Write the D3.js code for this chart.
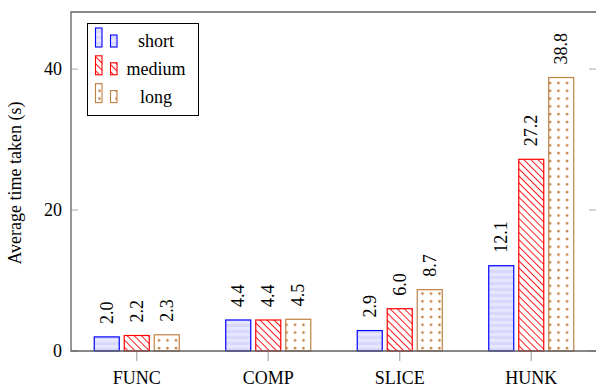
<!DOCTYPE html>
<html>
<head>
<meta charset="utf-8">
<script src="https://cdn.jsdelivr.net/npm/d3@7"></script>
<style>
  body { margin: 0; background: #fff; }
  text { font-family: "Liberation Serif", "Times New Roman", serif; fill: #000; }
</style>
</head>
<body>
<div id="chart"></div>
<script>
// Chart data
var categories = ["FUNC", "COMP", "SLICE", "HUNK"];
var seriesNames = ["short", "medium", "long"];
var shortTimes = [2.0, 4.4, 2.9, 12.1];
var mediumTimes = [2.2, 4.4, 6.0, 27.2];
var longTimes = [2.3, 4.5, 8.7, 38.8];
var yTicks = [0, 20, 40];

var svgWidth = 596;
var svgHeight = 387;

var plot = { left: 71, right: 597, top: 12, bottom: 351 };

var svg = d3.select("#chart")
  .append("svg")
  .attr("width", svgWidth)
  .attr("height", svgHeight);

var defs = svg.append("defs");

// blue horizontal stripes
var pBlue = defs.append("pattern")
  .attr("id", "pBlue")
  .attr("patternUnits", "userSpaceOnUse")
  .attr("width", 8).attr("height", 6);
pBlue.append("rect").attr("width", 8).attr("height", 6).attr("fill", "#e6e6ff");
pBlue.append("rect").attr("width", 8).attr("height", 3).attr("fill", "#d8d8fc");

// red north west lines
var pRed = defs.append("pattern")
  .attr("id", "pRed")
  .attr("patternUnits", "userSpaceOnUse")
  .attr("width", 10).attr("height", 5)
  .attr("patternTransform", "rotate(45)");
pRed.append("rect").attr("width", 10).attr("height", 5).attr("fill", "#fff");
pRed.append("line")
  .attr("x1", 0).attr("x2", 10).attr("y1", 2.5).attr("y2", 2.5)
  .attr("stroke", "#ff0000").attr("stroke-width", 0.9);

// brown dots
var pBrown = defs.append("pattern")
  .attr("id", "pBrown")
  .attr("patternUnits", "userSpaceOnUse")
  .attr("width", 8.5).attr("height", 7.8)
  .attr("x", 2).attr("y", 1);
pBrown.append("rect").attr("width", 8.5).attr("height", 7.8).attr("fill", "#fff");
pBrown.append("circle").attr("cx", 4).attr("cy", 4).attr("r", 1.35).attr("fill", "#c27c3c");

var styles = [
  { stroke: "#0000ff", fill: "url(#pBlue)" },
  { stroke: "#ff0000", fill: "url(#pRed)" },
  { stroke: "#bf8040", fill: "url(#pBrown)" }
];

var seriesValues = [shortTimes, mediumTimes, longTimes];

var xScale = d3.scalePoint()
  .domain(categories)
  .range([plot.left, plot.right])
  .padding(0.5);

var yScale = d3.scaleLinear()
  .domain([0, 48.1])
  .range([plot.bottom, plot.top]);

var offsets = [-30, 0, 30];
var barWidth = 25;

// axes frame
var frameColor = "#606060";
var tickColor = "#a8a8a8";

// y ticks (inside, both sides)
yTicks.forEach(function (t) {
  svg.append("line")
    .attr("x1", plot.left).attr("x2", plot.left + 7)
    .attr("y1", yScale(t)).attr("y2", yScale(t))
    .attr("stroke", tickColor);
  svg.append("line")
    .attr("x1", plot.right - 8).attr("x2", plot.right)
    .attr("y1", yScale(t)).attr("y2", yScale(t))
    .attr("stroke", tickColor);
  svg.append("text")
    .attr("x", plot.left - 9)
    .attr("y", yScale(t) + 6)
    .attr("text-anchor", "end")
    .style("font-size", "18px")
    .text(t);
});

// x ticks (below axis)
categories.forEach(function (c) {
  svg.append("line")
    .attr("x1", xScale(c)).attr("x2", xScale(c))
    .attr("y1", plot.bottom + 1).attr("y2", plot.bottom + 10)
    .attr("stroke", tickColor)
    .attr("stroke-width", 1.2);
  svg.append("text")
    .attr("x", xScale(c))
    .attr("y", 383.5)
    .attr("text-anchor", "middle")
    .style("font-size", "18px")
    .text(c);
});

// bars
seriesValues.forEach(function (vals, si) {
  var g = svg.append("g");
  g.selectAll("rect")
    .data(vals)
    .enter()
    .append("rect")
    .attr("x", (d, i) => xScale(categories[i]) + offsets[si] - barWidth / 2)
    .attr("y", d => yScale(d))
    .attr("width", barWidth)
    .attr("height", d => yScale(0) - yScale(d))
    .attr("fill", styles[si].fill)
    .attr("stroke", styles[si].stroke)
    .attr("stroke-width", 1.2);

  // value labels
  g.selectAll("text")
    .data(vals)
    .enter()
    .append("text")
    .attr("transform", (d, i) =>
      `translate(${xScale(categories[i]) + offsets[si]}, ${yScale(d) - 13}) rotate(-90)`)
    .attr("y", 6)
    .attr("text-anchor", "start")
    .style("font-size", "18px")
    .text(d => d.toFixed(1));
});

// frame
svg.append("path")
  .attr("d", `M${plot.left},${plot.bottom} V${plot.top} H${plot.right} V${plot.bottom} Z`)
  .attr("fill", "none")
  .attr("stroke", frameColor)
  .attr("stroke-width", 1.3);

// y axis title
svg.append("text")
  .attr("transform", `translate(21, 183) rotate(-90)`)
  .attr("text-anchor", "middle")
  .style("font-size", "18px")
  .text("Average time taken (s)");

// legend
var legend = svg.append("g");
legend.append("rect")
  .attr("x", 87.5).attr("y", 23.5)
  .attr("width", 111).attr("height", 92)
  .attr("fill", "#fff")
  .attr("stroke", "#000")
  .attr("stroke-width", 1);

seriesNames.forEach(function (name, si) {
  var base = 47 + si * 27.8;
  legend.append("rect")
    .attr("x", 95.5).attr("y", base - 19)
    .attr("width", 6.5).attr("height", 19)
    .attr("fill", styles[si].fill)
    .attr("stroke", styles[si].stroke)
    .attr("stroke-width", 1.1);
  legend.append("rect")
    .attr("x", 110.5).attr("y", base - 12)
    .attr("width", 6.5).attr("height", 12)
    .attr("fill", styles[si].fill)
    .attr("stroke", styles[si].stroke)
    .attr("stroke-width", 1.1);
  legend.append("text")
    .attr("x", 156)
    .attr("y", base)
    .attr("text-anchor", "middle")
    .style("font-size", "18px")
    .text(name);
});
</script>
</body>
</html>
